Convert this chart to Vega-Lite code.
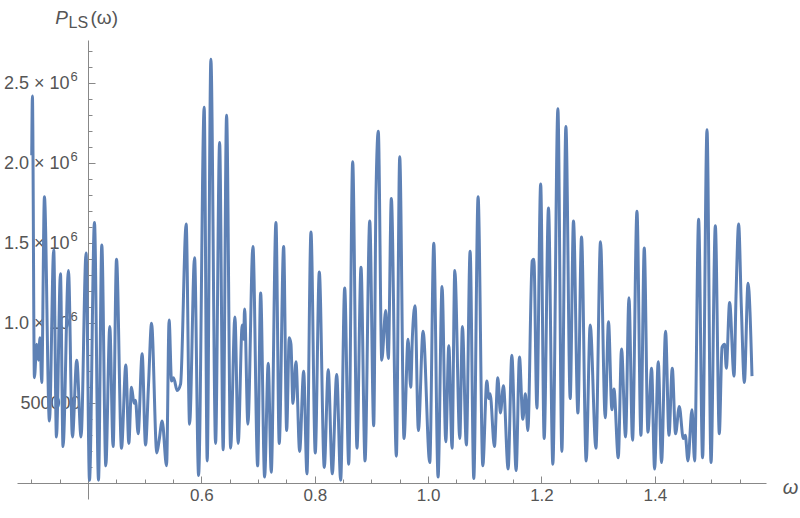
{
 "$schema": "https://vega.github.io/schema/vega-lite/v6.json",
 "width": 749, "height": 459,
 "autosize": {"type": "none"},
 "padding": {"left": 17, "top": 40, "right": 34, "bottom": 19},
 "background": "white",
 "config": {"view": {"stroke": null}, "axis": {"grid": false, "domainColor": "#888888", "tickColor": "#888888", "labelColor": "#555555", "labelFont": "Liberation Sans", "labelFontSize": 18, "titleFont": "Liberation Sans", "titleColor": "#555555", "titleFontWeight": "normal", "zindex": 1}},
 "data": {"values": [
{"w":0.3006,"P":2050000},{"w":0.3018,"P":2420000},{"w":0.3053,"P":660000},{"w":0.3094,"P":870000},{"w":0.3124,"P":770000},{"w":0.3152,"P":910000},{"w":0.3182,"P":630000},{"w":0.3230,"P":1790000},{"w":0.3318,"P":390000},{"w":0.3394,"P":1460000},{"w":0.3442,"P":290000},{"w":0.3513,"P":1310000},{"w":0.3558,"P":230000},{"w":0.3654,"P":1330000},{"w":0.3724,"P":290000},{"w":0.3800,"P":770000},{"w":0.3876,"P":290000},{"w":0.3965,"P":1440000},{"w":0.4025,"P":20000},{"w":0.4113,"P":1630000},{"w":0.4184,"P":20000},{"w":0.4242,"P":1490000},{"w":0.4313,"P":110000},{"w":0.4383,"P":980000},{"w":0.4442,"P":230000},{"w":0.4502,"P":1400000},{"w":0.4590,"P":220000},{"w":0.4666,"P":740000},{"w":0.4719,"P":250000},{"w":0.4766,"P":600000},{"w":0.4812,"P":500000},{"w":0.4837,"P":520000},{"w":0.4883,"P":310000},{"w":0.4954,"P":810000},{"w":0.5014,"P":240000},{"w":0.5067,"P":620000},{"w":0.5120,"P":1000000},{"w":0.5213,"P":190000},{"w":0.5254,"P":270000},{"w":0.5307,"P":390000},{"w":0.5385,"P":110000},{"w":0.5430,"P":1020000},{"w":0.5473,"P":640000},{"w":0.5508,"P":660000},{"w":0.5572,"P":580000},{"w":0.5632,"P":620000},{"w":0.5731,"P":1620000},{"w":0.5791,"P":370000},{"w":0.5879,"P":1410000},{"w":0.5950,"P":50000},{"w":0.6049,"P":2350000},{"w":0.6102,"P":140000},{"w":0.6167,"P":2650000},{"w":0.6250,"P":250000},{"w":0.6321,"P":2130000},{"w":0.6384,"P":210000},{"w":0.6444,"P":2300000},{"w":0.6515,"P":220000},{"w":0.6591,"P":1040000},{"w":0.6649,"P":250000},{"w":0.6720,"P":990000},{"w":0.6744,"P":900000},{"w":0.6762,"P":1090000},{"w":0.6820,"P":370000},{"w":0.6909,"P":1480000},{"w":0.6992,"P":110000},{"w":0.7045,"P":1190000},{"w":0.7115,"P":40000},{"w":0.7179,"P":750000},{"w":0.7232,"P":70000},{"w":0.7315,"P":1630000},{"w":0.7373,"P":250000},{"w":0.7451,"P":1480000},{"w":0.7504,"P":330000},{"w":0.7550,"P":910000},{"w":0.7580,"P":870000},{"w":0.7615,"P":500000},{"w":0.7668,"P":760000},{"w":0.7733,"P":200000},{"w":0.7804,"P":700000},{"w":0.7862,"P":60000},{"w":0.7933,"P":1570000},{"w":0.8009,"P":190000},{"w":0.8080,"P":1320000},{"w":0.8168,"P":100000},{"w":0.8238,"P":710000},{"w":0.8309,"P":60000},{"w":0.8387,"P":680000},{"w":0.8457,"P":20000},{"w":0.8528,"P":1220000},{"w":0.8599,"P":120000},{"w":0.8669,"P":2010000},{"w":0.8745,"P":220000},{"w":0.8816,"P":1350000},{"w":0.8887,"P":140000},{"w":0.8970,"P":1640000},{"w":0.9040,"P":360000},{"w":0.9081,"P":1820000},{"w":0.9121,"P":2200000},{"w":0.9182,"P":770000},{"w":0.9252,"P":1080000},{"w":0.9298,"P":780000},{"w":0.9351,"P":1780000},{"w":0.9440,"P":170000},{"w":0.9499,"P":2040000},{"w":0.9575,"P":280000},{"w":0.9646,"P":900000},{"w":0.9693,"P":600000},{"w":0.9722,"P":910000},{"w":0.9770,"P":1110000},{"w":0.9828,"P":330000},{"w":0.9911,"P":950000},{"w":1.0029,"P":130000},{"w":1.0100,"P":1500000},{"w":1.0176,"P":40000},{"w":1.0246,"P":1230000},{"w":1.0312,"P":260000},{"w":1.0365,"P":860000},{"w":1.0423,"P":220000},{"w":1.0471,"P":1330000},{"w":1.0559,"P":280000},{"w":1.0605,"P":980000},{"w":1.0675,"P":240000},{"w":1.0741,"P":1450000},{"w":1.0806,"P":30000},{"w":1.0882,"P":1790000},{"w":1.0965,"P":110000},{"w":1.1036,"P":640000},{"w":1.1071,"P":530000},{"w":1.1094,"P":560000},{"w":1.1170,"P":230000},{"w":1.1230,"P":660000},{"w":1.1276,"P":440000},{"w":1.1329,"P":610000},{"w":1.1412,"P":90000},{"w":1.1477,"P":800000},{"w":1.1553,"P":80000},{"w":1.1612,"P":790000},{"w":1.1671,"P":400000},{"w":1.1717,"P":560000},{"w":1.1760,"P":330000},{"w":1.1836,"P":1390000},{"w":1.1866,"P":1400000},{"w":1.1919,"P":470000},{"w":1.1986,"P":1870000},{"w":1.2048,"P":280000},{"w":1.2124,"P":1720000},{"w":1.2201,"P":120000},{"w":1.2290,"P":2340000},{"w":1.2360,"P":200000},{"w":1.2431,"P":2230000},{"w":1.2507,"P":530000},{"w":1.2565,"P":1640000},{"w":1.2643,"P":440000},{"w":1.2707,"P":1540000},{"w":1.2789,"P":140000},{"w":1.2860,"P":990000},{"w":1.2961,"P":220000},{"w":1.3042,"P":1510000},{"w":1.3125,"P":410000},{"w":1.3183,"P":1010000},{"w":1.3243,"P":460000},{"w":1.3279,"P":590000},{"w":1.3355,"P":160000},{"w":1.3413,"P":840000},{"w":1.3484,"P":290000},{"w":1.3544,"P":1160000},{"w":1.3607,"P":270000},{"w":1.3685,"P":1700000},{"w":1.3755,"P":300000},{"w":1.3814,"P":1470000},{"w":1.3879,"P":320000},{"w":1.3943,"P":720000},{"w":1.3996,"P":90000},{"w":1.4061,"P":760000},{"w":1.4119,"P":130000},{"w":1.4190,"P":950000},{"w":1.4250,"P":300000},{"w":1.4308,"P":720000},{"w":1.4366,"P":310000},{"w":1.4432,"P":480000},{"w":1.4503,"P":280000},{"w":1.4538,"P":300000},{"w":1.4585,"P":140000},{"w":1.4656,"P":460000},{"w":1.4702,"P":140000},{"w":1.4773,"P":1650000},{"w":1.4843,"P":160000},{"w":1.4921,"P":2210000},{"w":1.4992,"P":130000},{"w":1.5068,"P":1610000},{"w":1.5138,"P":310000},{"w":1.5186,"P":850000},{"w":1.5232,"P":870000},{"w":1.5262,"P":720000},{"w":1.5320,"P":1130000},{"w":1.5398,"P":670000},{"w":1.5433,"P":1170000},{"w":1.5479,"P":1620000},{"w":1.5527,"P":1100000},{"w":1.5580,"P":630000},{"w":1.5645,"P":1250000},{"w":1.5715,"P":670000}
 ]},
 "layer": [
  {
   "mark": {"type": "line", "color": "#5E81B5", "strokeWidth": 3, "interpolate": "monotone"},
   "encoding": {
    "x": {"field": "w", "type": "quantitative", "scale": {"domain": [0.2746, 1.5962], "nice": false, "zero": false},
      "axis": {"orient": "bottom", "offset": -16, "values": [0.4, 0.6, 0.8, 1.0, 1.2, 1.4], "labelExpr": "datum.value < 0.5 ? '' : format(datum.value, '.1f')", "tickSize": -7, "labelPadding": 11, "labelFontSize": 17, "domain": true,
        "title": "ω", "titleFontStyle": "italic", "titleFontSize": 20, "titleX": 773, "titleY": 10, "titleAlign": "center", "titleBaseline": "alphabetic", "titleAngle": 0}},
    "y": {"field": "P", "type": "quantitative", "scale": {"domain": [-97500, 2770000], "nice": false, "zero": false},
      "axis": {"orient": "left", "offset": -71, "values": [500000, 1000000, 1500000, 2000000, 2500000], "labels": false, "tickSize": -7, "domain": true,
        "title": "P", "titleFontStyle": "italic", "titleFontSize": 19, "titleX": -27, "titleY": -17, "titleAlign": "center", "titleBaseline": "alphabetic", "titleAngle": 0}}
   }
  },
  {
   "mark": {"type": "line", "opacity": 0},
   "encoding": {
    "x": {"field": "w", "type": "quantitative",
      "axis": {"orient": "bottom", "offset": -16, "values": [0.3, 0.35, 0.45, 0.5, 0.55, 0.65, 0.7, 0.75, 0.85, 0.9, 0.95, 1.05, 1.1, 1.15, 1.25, 1.3, 1.35, 1.45, 1.5, 1.55], "labels": false, "tickSize": -4, "domain": false,
        "title": "(ω)", "titleFontSize": 19, "titleX": 73, "titleY": -460, "titleAlign": "left", "titleBaseline": "alphabetic", "titleAngle": 0}},
    "y": {"field": "P", "type": "quantitative",
      "axis": {"orient": "left", "offset": -71, "values": [0, 100000, 200000, 300000, 400000, 600000, 700000, 800000, 900000, 1100000, 1200000, 1300000, 1400000, 1600000, 1700000, 1800000, 1900000, 2100000, 2200000, 2300000, 2400000, 2600000, 2700000], "labels": false, "tickSize": -4, "domain": false,
        "title": "LS", "titleFontSize": 16, "titleX": -20, "titleY": -13, "titleAlign": "left", "titleBaseline": "alphabetic", "titleAngle": 0}}
   }
  },
  {
   "mark": {"type": "line", "opacity": 0},
   "encoding": {
    "x": {"field": "w", "type": "quantitative", "axis": null},
    "y": {"field": "P", "type": "quantitative",
      "axis": {"orient": "left", "offset": -71, "values": [1000000, 1500000, 2000000, 2500000], "labelExpr": "format(datum.value/1000000, '.1f') + ' × 10'", "ticks": false, "tickSize": 0, "domain": false, "labelPadding": 19, "labelAlign": "right", "labelBaseline": "middle", "title": null}}
   }
  },
  {
   "mark": {"type": "line", "opacity": 0},
   "encoding": {
    "x": {"field": "w", "type": "quantitative", "axis": null},
    "y": {"field": "P", "type": "quantitative",
      "axis": {"orient": "left", "offset": -71, "values": [1000000, 1500000, 2000000, 2500000], "labelExpr": "'6'", "ticks": false, "tickSize": 0, "domain": false, "labelPadding": 18, "labelAlign": "left", "labelBaseline": "middle", "labelFontSize": 13, "labelOffset": -7, "title": null}}
   }
  },
  {
   "mark": {"type": "line", "opacity": 0},
   "encoding": {
    "x": {"field": "w", "type": "quantitative", "axis": null},
    "y": {"field": "P", "type": "quantitative",
      "axis": {"orient": "left", "offset": -71, "values": [500000], "labelExpr": "'500000'", "ticks": false, "tickSize": 0, "domain": false, "labelPadding": 8, "labelAlign": "right", "labelBaseline": "middle", "title": null}}
   }
  }
 ],
 "resolve": {"axis": {"x": "independent", "y": "independent"}}
}
